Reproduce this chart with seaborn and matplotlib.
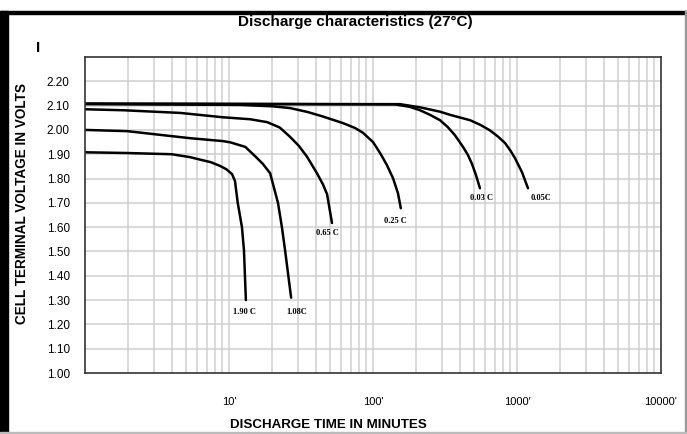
import pandas as pd
import matplotlib.pyplot as plt
import matplotlib.patches as patches
import seaborn as sns

# discharge curves: time (min) and cell voltage (V)
rate_labels = ['1.90 C', '1.08C', '0.65 C', '0.25 C', '0.03 C', '0.05C']

t_190 = [1, 1.96, 4.0, 5.36, 6.29, 7.5, 8.66, 9.6, 10.5, 11.0, 11.5, 12.3, 12.7, 13.1]
v_190 = [1.908, 1.905, 1.900, 1.888, 1.878, 1.867, 1.852, 1.838, 1.818, 1.790, 1.700, 1.600, 1.506, 1.300]

t_108 = [1, 1.96, 5.36, 9.08, 10.2, 13.0, 15.6, 17.2, 19.3, 21.9, 23.3, 24.5, 27.0]
v_108 = [2.000, 1.995, 1.966, 1.954, 1.949, 1.930, 1.885, 1.860, 1.822, 1.699, 1.600, 1.506, 1.310]

t_065 = [1, 1.84, 4.57, 9.08, 14.0, 18.4, 22.5, 26.5, 30.5, 34.8, 40.8, 45.0, 48.0, 51.9]
v_065 = [2.085, 2.081, 2.070, 2.052, 2.044, 2.032, 2.010, 1.972, 1.935, 1.890, 1.822, 1.775, 1.735, 1.617]

t_025 = [1, 11.9, 20.2, 26.5, 35.0, 45.0, 61.9, 75.0, 85.3, 100, 112, 125, 138, 149, 156]
v_025 = [2.106, 2.103, 2.097, 2.090, 2.074, 2.055, 2.028, 2.008, 1.988, 1.950, 1.905, 1.855, 1.800, 1.740, 1.678]

t_003 = [1, 142, 180, 212, 249, 292, 330, 371, 422, 457, 487, 519, 553]
v_003 = [2.108, 2.105, 2.095, 2.081, 2.062, 2.040, 2.012, 1.978, 1.930, 1.896, 1.860, 1.814, 1.760]

t_005 = [1, 154, 212, 292, 343, 472, 560, 649, 740, 826, 900, 968, 1083, 1192]
v_005 = [2.108, 2.106, 2.093, 2.075, 2.062, 2.040, 2.020, 1.998, 1.972, 1.946, 1.915, 1.884, 1.826, 1.760]

x_ticks = [10, 100, 1000, 10000]
x_tick_labels = ["10'", "100'", "1000\u2032", "10000'"]
y_ticks = [1.0, 1.1, 1.2, 1.3, 1.4, 1.5, 1.6, 1.7, 1.8, 1.9, 2.0, 2.1, 2.2]

# where the rate labels sit (time, voltage)
label_t = [12.9, 29.7, 48.0, 142, 571, 1468]
label_v = [1.251, 1.251, 1.575, 1.625, 1.719, 1.719]

frames = []
for lab, t, v in zip(rate_labels,
                     [t_190, t_108, t_065, t_025, t_003, t_005],
                     [v_190, v_108, v_065, v_025, v_003, v_005]):
    frames.append(pd.DataFrame({'time': t, 'volt': v, 'rate': lab}))
curves = pd.concat(frames, ignore_index=True)

sns.set_style('white')
plt.rcParams['font.family'] = ['Liberation Sans', 'DejaVu Sans']
plt.rcParams['text.color'] = 'black'
plt.rcParams['xtick.color'] = 'black'
plt.rcParams['ytick.color'] = 'black'

fig = plt.figure(figsize=(6.87, 4.34), dpi=100)
ax = fig.add_axes([85 / 687, 61 / 434, 576 / 687, 316 / 434])

ax.set_xscale('log')
ax.set_xlim(1, 10000)
ax.set_ylim(1.0, 2.3)

# grid: decades + minor steps, and every 0.1 V
minor = [m * 10 ** d for d in range(0, 4) for m in range(2, 10)]
for xv in minor + [10, 100, 1000]:
    ax.axvline(xv, color='#cfcfcf', lw=1.1, zorder=0)
for yv in y_ticks[1:]:
    ax.axhline(yv, color='#cfcfcf', lw=1.1, zorder=0)

sns.lineplot(data=curves, x='time', y='volt', units='rate', estimator=None,
             sort=False, color='black', lw=1.8, ax=ax, legend=False)

for lab, tx, vy in zip(rate_labels, label_t, label_v):
    ax.text(tx, vy, lab, fontsize=6, fontweight='bold', family='Liberation Serif',
            ha='center', va='center')

ax.set_xticks(x_ticks)
ax.set_xticklabels(x_tick_labels, fontsize=8)
ax.xaxis.set_minor_locator(plt.NullLocator())
ax.set_yticks(y_ticks)
ax.set_yticklabels(['%.2f' % y for y in y_ticks], fontsize=8.5)
ax.tick_params(axis='both', length=0)
ax.tick_params(axis='x', pad=17)
ax.tick_params(axis='y', pad=11)
ax.set_xlabel('')
ax.set_ylabel('')

for s in ax.spines.values():
    s.set_color('#333333')
    s.set_linewidth(1.2)

fig.text(355 / 687, 1 - 22 / 434, 'Discharge characteristics (27\u00b0C)',
         ha='center', va='center', fontsize=11, fontweight='bold',
         family=['Liberation Sans Narrow', 'Liberation Sans', 'DejaVu Sans'])
fig.text(38 / 687, 1 - 48 / 434, 'I', ha='center', va='center', fontsize=11, fontweight='bold')
fig.text(22 / 687, 1 - 203 / 434, 'CELL TERMINAL VOLTAGE IN VOLTS', rotation=90,
         ha='center', va='center', fontsize=9.8, fontweight='bold')
fig.text(230 / 687, 1 - 425 / 434, 'DISCHARGE TIME IN MINUTES',
         ha='left', va='center', fontsize=9.6, fontweight='bold')

# frame around the whole picture
fig.patches.append(patches.Rectangle((0, 1 - 14 / 434), 1, 3 / 434, transform=fig.transFigure,
                                     color='black', zorder=5))
fig.patches.append(patches.Rectangle((0, 0), 8 / 687, 1 - 11 / 434, transform=fig.transFigure,
                                     color='black', zorder=5))
fig.patches.append(patches.Rectangle((685 / 687, 0), 2 / 687, 1 - 11 / 434, transform=fig.transFigure,
                                     color='#999999', zorder=5))
fig.patches.append(patches.Rectangle((0, 0), 1, 2 / 434, transform=fig.transFigure,
                                     color='#bbbbbb', zorder=5))

fig.savefig('out.png', dpi=100)
